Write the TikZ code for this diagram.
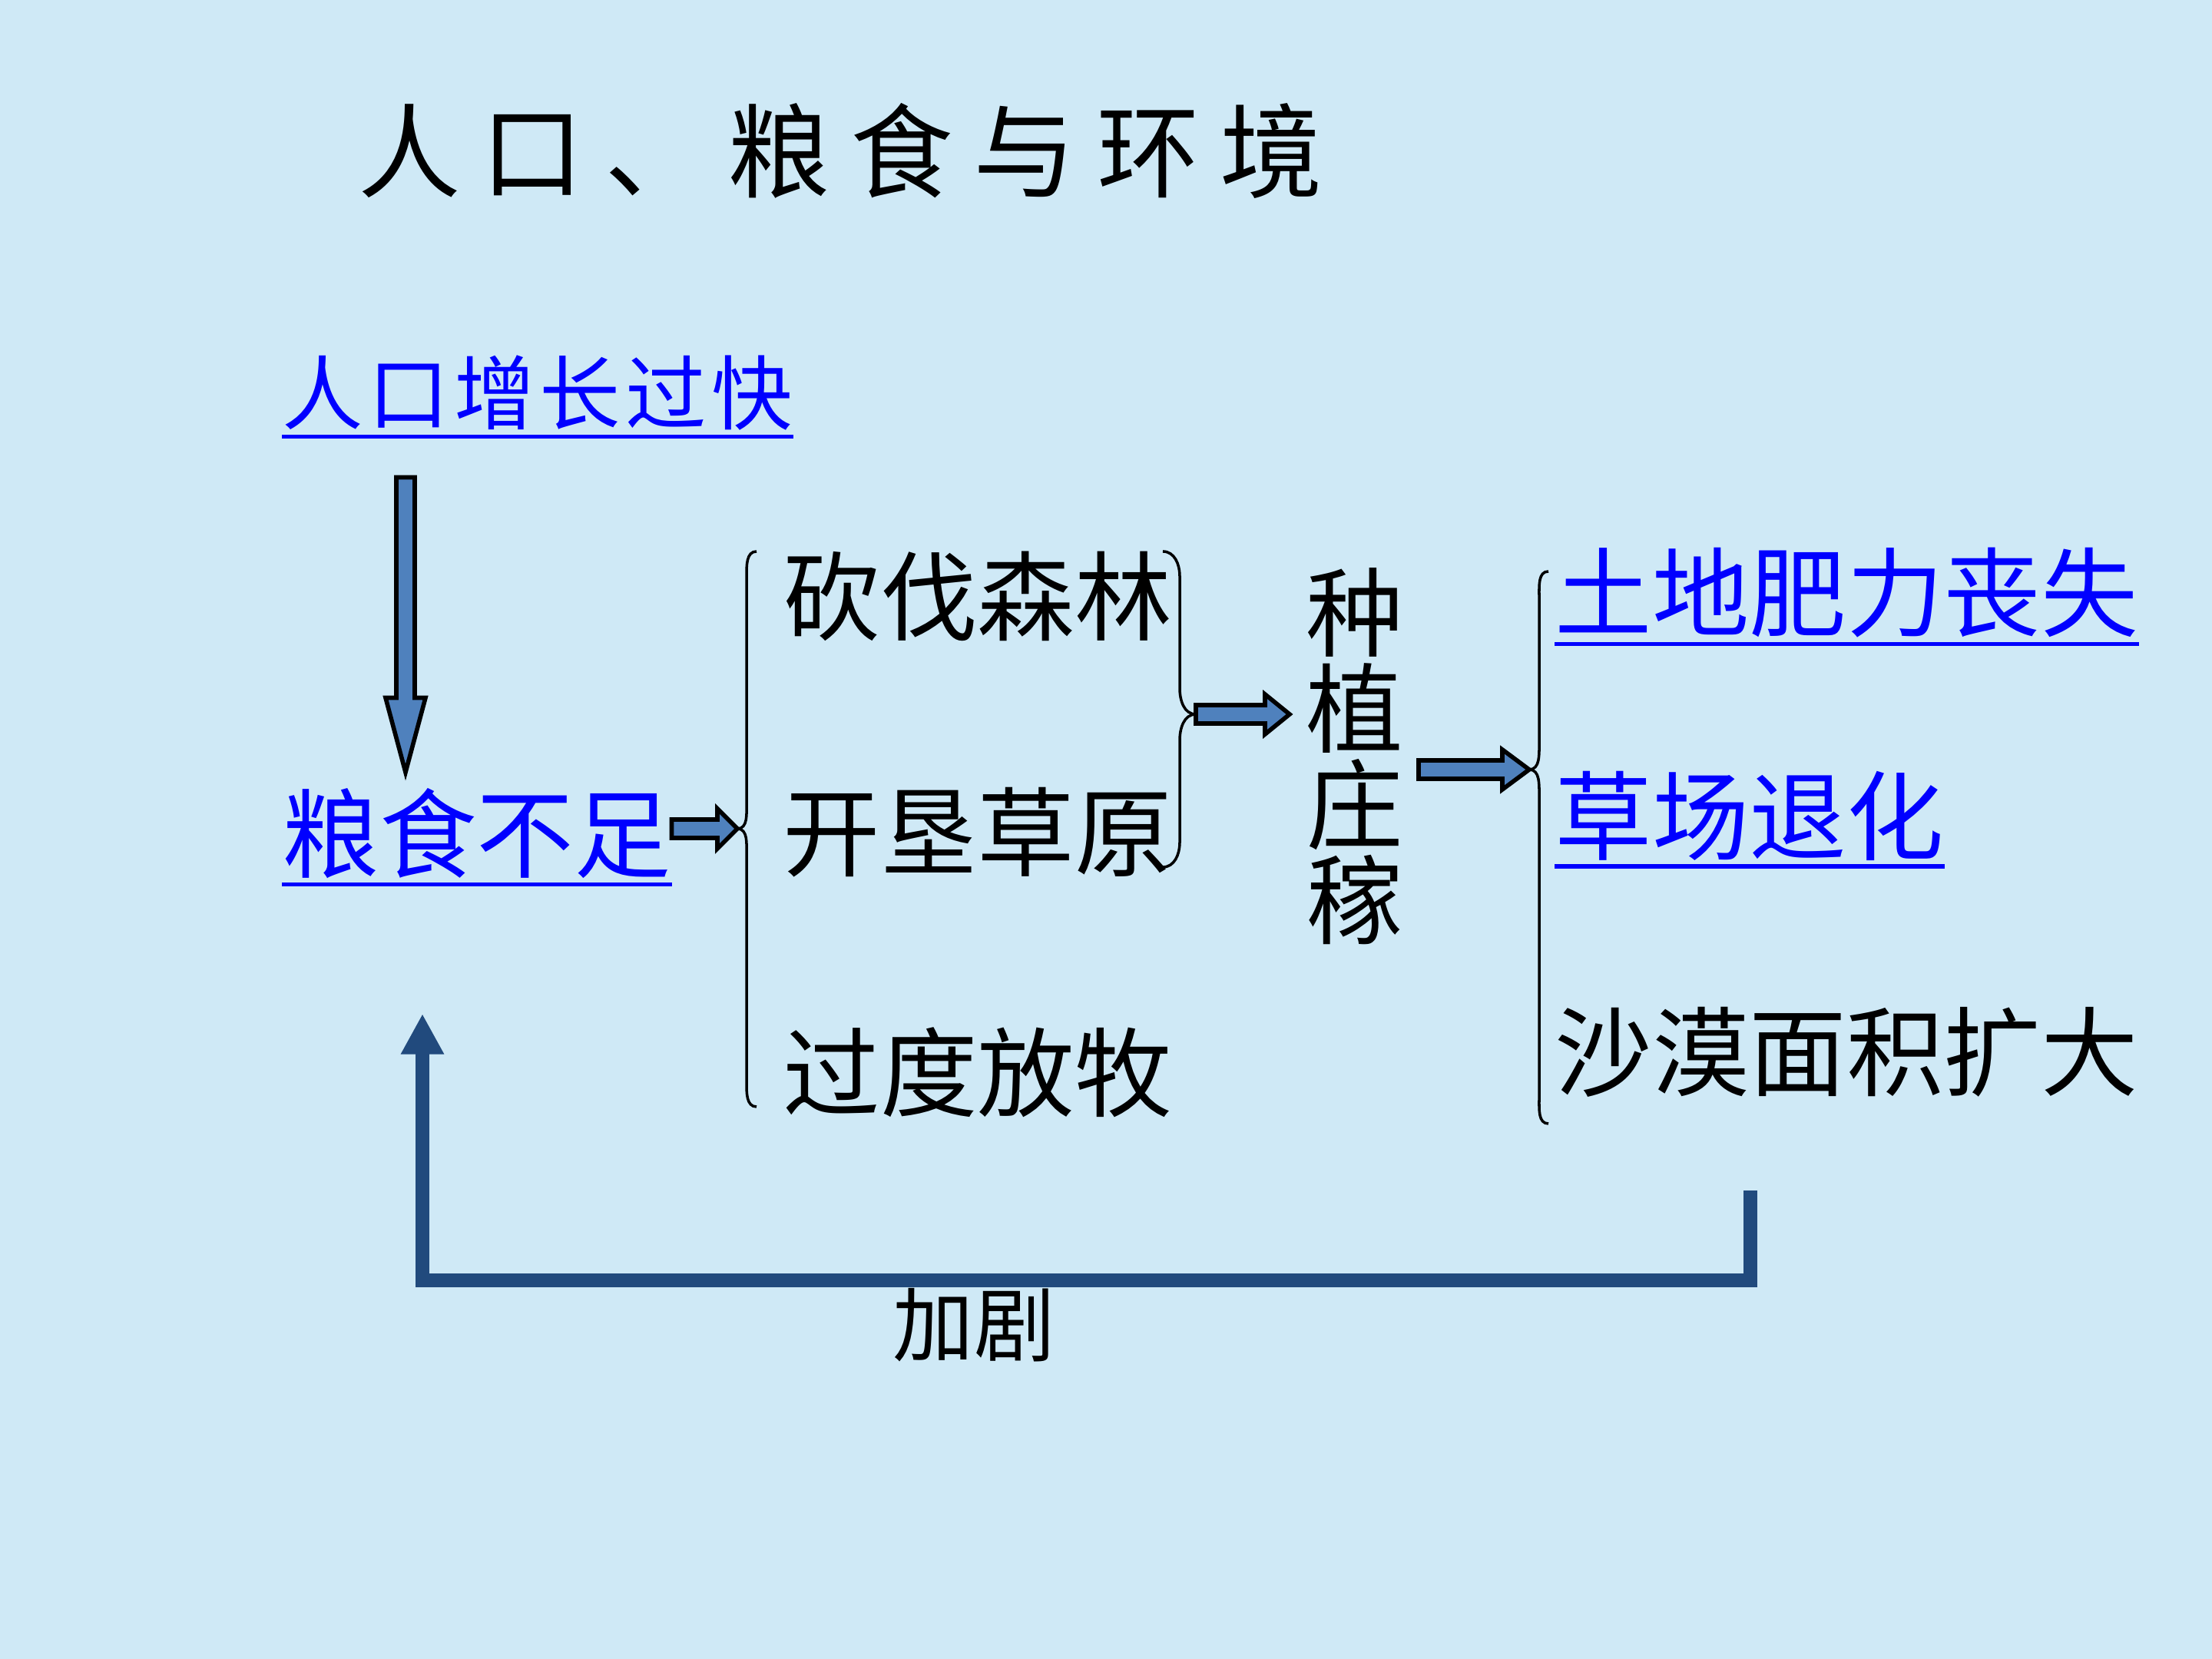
\documentclass[tikz,border=0pt]{standalone}
\usepackage{fontspec}
\setmainfont{Noto Sans CJK SC}
\newfontfamily\titlefont[LetterSpace=20]{Noto Sans CJK SC}
\newfontfamily\linkfont[LetterSpace=6]{Noto Sans CJK SC}
\usetikzlibrary{arrows.meta, calc}

\definecolor{slidebg}{RGB}{207,233,246}
\definecolor{linkblue}{RGB}{0,0,255}
\definecolor{arrowblue}{RGB}{79,129,189}
\definecolor{feedblue}{RGB}{33,74,125}

\tikzset{
  big/.style={font=\fontsize{36}{43}\selectfont, inner sep=0pt, anchor=west},
  link/.style={big, text=linkblue},
  uline/.style={draw=linkblue, line width=1.5pt},
  curly/.style={draw=black, line width=1pt},
  fatarrow/.style={draw=black, line width=1.6pt, fill=arrowblue, line join=miter},
  feedback/.style={draw=feedblue, line width=5pt, line join=miter, -{Triangle[width=15pt,length=15pt]}}
}

% block arrow pointing right, shaft at the height of #1, head length #3
\newcommand\blkright[3]{%
  \draw[fatarrow] let \p1=(#1), \p2=(#2) in
    (\x1,\y1+0.12cm) -- (\x2-#3,\y1+0.12cm) -- (\x2-#3,\y1+0.26cm) -- (\x2,\y1)
    -- (\x2-#3,\y1-0.26cm) -- (\x2-#3,\y1-0.12cm) -- (\x1,\y1-0.12cm) -- cycle;}

\begin{document}
\begin{tikzpicture}
    \fill[slidebg] (0,0) rectangle (28.8,21.6);
    \useasboundingbox (0,0) rectangle (28.8,21.6);

    % Title
    \node[anchor=west, inner sep=0pt, font=\titlefont\fontsize{38}{46}\selectfont] (title) at (4.66,19.63) {人口、粮食与环境};

    % Left column
    \node[link, font=\linkfont\fontsize{30}{36}\selectfont] (grow) at (3.67,16.48) {人口增长过快};
    \node[link] (lack) at (3.67,10.75) {粮食不足};

    % Causes
    \node[big] (cut) at (10.19,13.84) {砍伐森林};
    \node[big] (open) at (10.19,10.76) {开垦草原};
    \node[big] (graze) at (10.19,7.64) {过度放牧};
    \node[big, anchor=center, align=center, font=\fontsize{36}{35.5}\selectfont] (plant) at (17.64,11.75) {种\\植\\庄\\稼};

    % Results
    \node[link] (soil) at (20.24,13.88) {土地肥力丧失};
    \node[link] (grass) at (20.24,10.98) {草场退化};
    \node[big] (desert) at (20.24,7.90) {沙漠面积扩大};
    \node[inner sep=0pt, font=\fontsize{30}{36}\selectfont] (more) at (12.68,4.35) {加剧};

    % Underlines
    \foreach \n in {grow,lack,soil,grass}
        \draw[uline] ([yshift=-2pt]\n.south west) -- ([yshift=-2pt]\n.south east);

    % Braces
    \coordinate (tip1) at (9.60,10.81);
    \coordinate (tip2) at (15.57,12.30);
    \coordinate (tip3) at (19.91,11.58);
    \draw[curly] (9.85,14.42) to[out=180,in=90] (9.72,14.1) -- (9.72,11.15)
        to[out=-90,in=0] (tip1) to[out=0,in=90] (9.72,10.47) -- (9.72,7.51)
        to[out=-90,in=180] (9.85,7.19);
    \draw[curly] (15.14,14.42) to[out=0,in=90] (15.36,14.1) -- (15.36,12.64)
        to[out=-90,in=180] (tip2) to[out=180,in=90] (15.36,11.96) -- (15.36,10.63)
        to[out=-90,in=0] (15.14,10.31);
    \draw[curly] (20.16,14.16) to[out=180,in=90] (20.04,13.84) -- (20.04,11.92)
        to[out=-90,in=0] (tip3) to[out=0,in=90] (20.04,11.24) -- (20.04,7.29)
        to[out=-90,in=180] (20.16,6.97);

    % Down arrow
    \coordinate (dtop) at ($(grow.south west)+(1.61,-0.6)$);
    \coordinate (dtip) at ($(lack.north west)+(1.61,0.2)$);
    \draw[fatarrow] let \p1=(dtop), \p2=(dtip) in
        (\x1-0.12cm,\y1) -- (\x1-0.12cm,\y2+0.97cm) -- (\x1-0.26cm,\y2+0.97cm) -- (\x2,\y2)
        -- (\x1+0.26cm,\y2+0.97cm) -- (\x1+0.12cm,\y2+0.97cm) -- (\x1+0.12cm,\y1) -- cycle;

    % Right arrows
    \coordinate (a2) at ([xshift=-0.21cm]plant.west);
    \coordinate (a3) at ([xshift=0.19cm]plant.east);
    \blkright{lack.east |- tip1}{tip1}{0.26cm}
    \blkright{tip2}{a2}{0.32cm}
    \blkright{a3 |- tip3}{tip3}{0.35cm}

    % Feedback
    \coordinate (fbs) at (22.79,6.10);
    \coordinate (fbe) at (5.50,8.40);
    \draw[feedback] (fbs) -- ++(0,-1.17) -| (fbe);
\end{tikzpicture}
\end{document}
